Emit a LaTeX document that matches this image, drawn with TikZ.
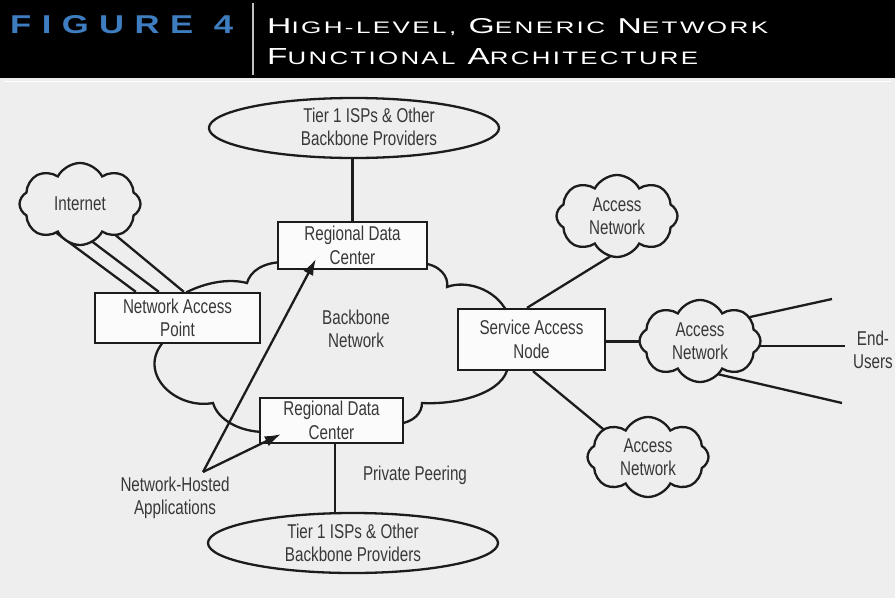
\documentclass[tikz,border=0pt]{standalone}
\usepackage{fontspec}
\usepackage{graphicx}
\setmainfont{Liberation Sans}[FakeStretch=0.76]
\newfontfamily\headfont{Liberation Sans}
\usetikzlibrary{shapes.symbols,shapes.geometric,arrows.meta,calc}
\pgfdeclarelayer{back}
\pgfsetlayers{back,main}
\definecolor{panel}{HTML}{EEEEEE}
\definecolor{ink}{HTML}{1C1C1C}
\definecolor{txt}{HTML}{383838}
\definecolor{boxfill}{HTML}{FBFBFB}
\definecolor{figblue}{HTML}{3E7EC0}
% a capital followed by reduced capitals, for the heading
\newcommand\capsm[2]{{\fontsize{20}{20}\selectfont #1}{\fontsize{15.5}{20}\selectfont #2}}

\begin{document}
\begin{tikzpicture}[x=1pt,y=-1pt,
  line/.style={draw=ink, line width=2.3pt},
  boxnode/.style={rectangle, draw=ink, line width=2.3pt, fill=boxfill, inner sep=0pt, align=center},
  cloudnode/.style={cloud, cloud puffs=8, cloud puff arc=125, cloud ignores aspect,
    draw=ink, line width=2.3pt, fill=panel, minimum width=121pt, minimum height=82pt,
    inner sep=0pt, align=center},
  oval/.style={ellipse, draw=ink, line width=2.3pt, fill=panel, minimum width=290pt,
    minimum height=60pt, inner sep=0pt, align=center},
  lbl/.style={align=center, inner sep=0pt},
  every node/.append style={font=\fontsize{20}{23.5}\selectfont, text=txt},
  tip/.style={-{Latex[length=16pt,width=11pt]}}
]
\useasboundingbox (0,0) rectangle (895,598);

\begin{pgfonlayer}{back}
  \fill[panel] (0,78) rectangle (895,598);
  % backbone cloud, partly hidden behind the boxes
  \draw[line, fill=panel] (190,310) -- (187,292)
    .. controls (205,283) and (228,278) .. (247,283)
    .. controls (250,272) and (262,262) .. (285,262)
    -- (420,263)
    .. controls (440,264) and (449,277) .. (447,287)
    .. controls (465,280) and (495,288) .. (507,312)
    -- (508,366)
    .. controls (505,392) and (460,405) .. (422,403)
    .. controls (422,413) and (414,422) .. (398,424)
    -- (265,432)
    .. controls (240,432) and (218,420) .. (213,403)
    .. controls (175,410) and (135,372) .. (165,340)
    -- cycle;
\end{pgfonlayer}

% header band
\fill[black] (0,0) rectangle (895,78);
\draw[white!75!black, line width=1.2pt] (253,3) -- (253,75);
\draw[white, line width=1pt] (4,81.5) -- (891,81.5);
\node[anchor=base west, inner sep=0pt, text=figblue] (fignum) at (10,33)
  {\resizebox{223pt}{18pt}{\headfont\bfseries\addfontfeatures{LetterSpace=30}FIGURE\hspace{0.6em}4}};
\node[anchor=base west, inner sep=0pt, text=white] (title1) at (267,33)
  {\resizebox{501pt}{15pt}{\headfont\addfontfeatures{LetterSpace=9}\capsm{H}{IGH-LEVEL,} \capsm{G}{ENERIC} \capsm{N}{ETWORK}}};
\node[anchor=base west, inner sep=0pt, text=white] (title2) at (267,64)
  {\resizebox{431pt}{16pt}{\headfont\addfontfeatures{LetterSpace=9}\capsm{F}{UNCTIONAL} \capsm{A}{RCHITECTURE}}};

% clouds and providers
\node[cloudnode] (internet) at (80,204) {Internet};
\node[cloudnode] (anTop) at (617,216) {Access\\Network};
\node[cloudnode] (anMid) at (700,341) {Access\\Network};
\node[cloudnode, minimum height=80pt] (anBot) at (648,457) {Access\\Network};
\node[oval] (tierTop) at (354,128) {};
\node[lbl] (tierTopText) at (369,127) {Tier 1 ISPs \& Other\\Backbone Providers};
\node[oval] (tierLow) at (353,543) {Tier 1 ISPs \& Other\\Backbone Providers};

% boxes
\node[boxnode, minimum width=149pt, minimum height=47pt] (rdcTop) at (352.5,245.5) {Regional Data\\Center};
\node[boxnode, minimum width=165pt, minimum height=50pt] (nap) at (177.5,318) {Network Access\\Point};
\node[boxnode, minimum width=147pt, minimum height=61pt] (san) at (531.5,339.5) {Service Access\\Node};
\node[boxnode, minimum width=143pt, minimum height=45pt] (rdcLow) at (331.5,420.5) {Regional Data\\Center};

% free labels
\node[lbl] (backbone) at (356,329) {Backbone\\Network};
\node[lbl] (peering) at (415,475) {Private Peering};
\node[lbl] (apps) at (175,498) {Network-Hosted\\Applications};
\node[lbl] (users) at (873,350) {End-\\Users};

% connectors that run under the clouds and boxes
\coordinate (eu1) at (832,299);
\coordinate (eu2) at (845,346);
\coordinate (eu3) at (842,403);
\begin{pgfonlayer}{back}
  \draw[line] ($(internet.center)+(-39,17.5)$) -- ($(nap.north west)+(42,0)$);
  \draw[line] ($(internet.center)+(-14.5,17.5)$) -- ($(nap.north west)+(65,0)$);
  \draw[line] ($(internet.center)+(10,10)$) -- ($(nap.north west)+(90,0)$);
  \draw[line] ($(san.north)+(-4.5,0)$) -- ($(anTop.center)+(10,30)$);
  \draw[line] ($(san.east)+(0,2)$) -- ($(san.east -| anMid.center)+(0,2)$);
  \draw[line] ($(san.south)+(1.5,0)$) -- ($(anBot.center)+(-28,-14)$);
  \draw[line] ($(anMid.center)+(0,-13)$) -- (eu1);
  \draw[line] ($(anMid.center)+(0,5)$) -- (eu2);
  \draw[line] ($(anMid.center)+(0,29)$) -- (eu3);
\end{pgfonlayer}

% peering links
\draw[line] (tierTop.south -| rdcTop.north) -- (rdcTop.north);
\coordinate (pp) at ($(rdcLow.south)+(3.5,0)$);
\draw[line] (pp) -- (pp |- tierLow.north);

% hosted applications
\coordinate (apex) at (203,472);
\draw[line, tip] (apex) -- ($(rdcTop.south west)+(39,-11)$);
\draw[line, tip] (apex) -- ($(rdcLow.south west)+(22,-10)$);
\end{tikzpicture}
\end{document}
